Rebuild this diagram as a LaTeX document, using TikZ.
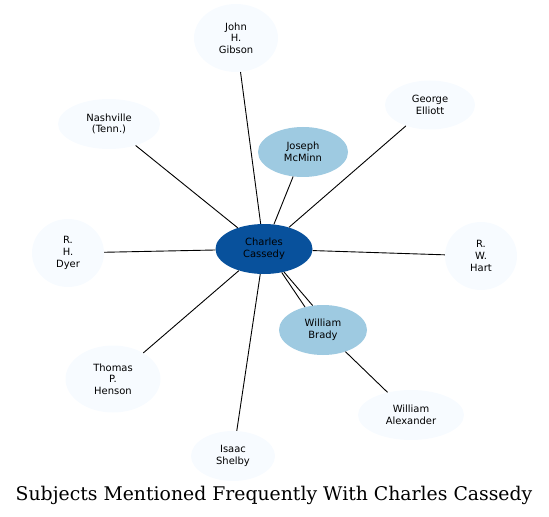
\documentclass[tikz,border=0pt]{standalone}
\usepackage{fontspec}
\setmainfont{DejaVu Sans}
\newfontfamily\titlefont{DejaVu Serif}
\usepackage{xcolor}
\usepackage{tikz}
\usetikzlibrary{shapes.geometric}
\definecolor{paleblue}{HTML}{F7FBFF}
\definecolor{midblue}{HTML}{9ECAE1}
\definecolor{darkblue}{HTML}{08519C}

\begin{document}
\begin{tikzpicture}[x=1bp, y=-1bp,
  subj/.style={ellipse, fill=paleblue, inner sep=0pt, align=center,
    font=\fontsize{10}{11.7}\selectfont},
  link/.style={line width=0.9bp, color=black}]

\useasboundingbox (0,0) rectangle (549,517);

% Centre and close subjects
\node[subj, fill=darkblue, minimum width=97bp, minimum height=50bp] (cc) at (264,249) {Charles\\Cassedy};
\node[subj, fill=midblue, minimum width=90bp, minimum height=50bp] (jm) at (303,152) {Joseph\\McMinn};
\node[subj, fill=midblue, minimum width=88bp, minimum height=50bp] (wb) at (323,330) {William\\Brady};

% Outer ring
\node[subj, minimum width=84bp, minimum height=68bp] (jg) at (236,38) {John\\H.\\Gibson};
\node[subj, minimum width=90bp, minimum height=49bp] (ge) at (430,105) {George\\Elliott};
\node[subj, minimum width=102bp, minimum height=50bp] (nt) at (109,124) {Nashville\\(Tenn.)};
\node[subj, minimum width=72bp, minimum height=68bp] (rd) at (68,253) {R.\\H.\\Dyer};
\node[subj, minimum width=72bp, minimum height=68bp] (rh) at (481,256) {R.\\W.\\Hart};
\node[subj, minimum width=95bp, minimum height=67bp] (tp) at (113,379) {Thomas\\P.\\Henson};
\node[subj, minimum width=106bp, minimum height=50bp] (wa) at (411,415) {William\\Alexander};
\node[subj, minimum width=84bp, minimum height=50bp] (is) at (233,456) {Isaac\\Shelby};

% Links
\foreach \n in {jm,jg,ge,nt,rd,rh,tp,is} {
  \draw[link] (cc) -- (\n);
}
\draw[link] (cc.-53) -- (wb.128);
\draw[link] (cc.-49) -- (wb.113);
\draw[link] (wb) -- (wa);

% Title
\node[font=\titlefont\fontsize{18.9}{21}\selectfont] (title) at (274,495) {Subjects Mentioned Frequently With Charles Cassedy};

\end{tikzpicture}
\end{document}
